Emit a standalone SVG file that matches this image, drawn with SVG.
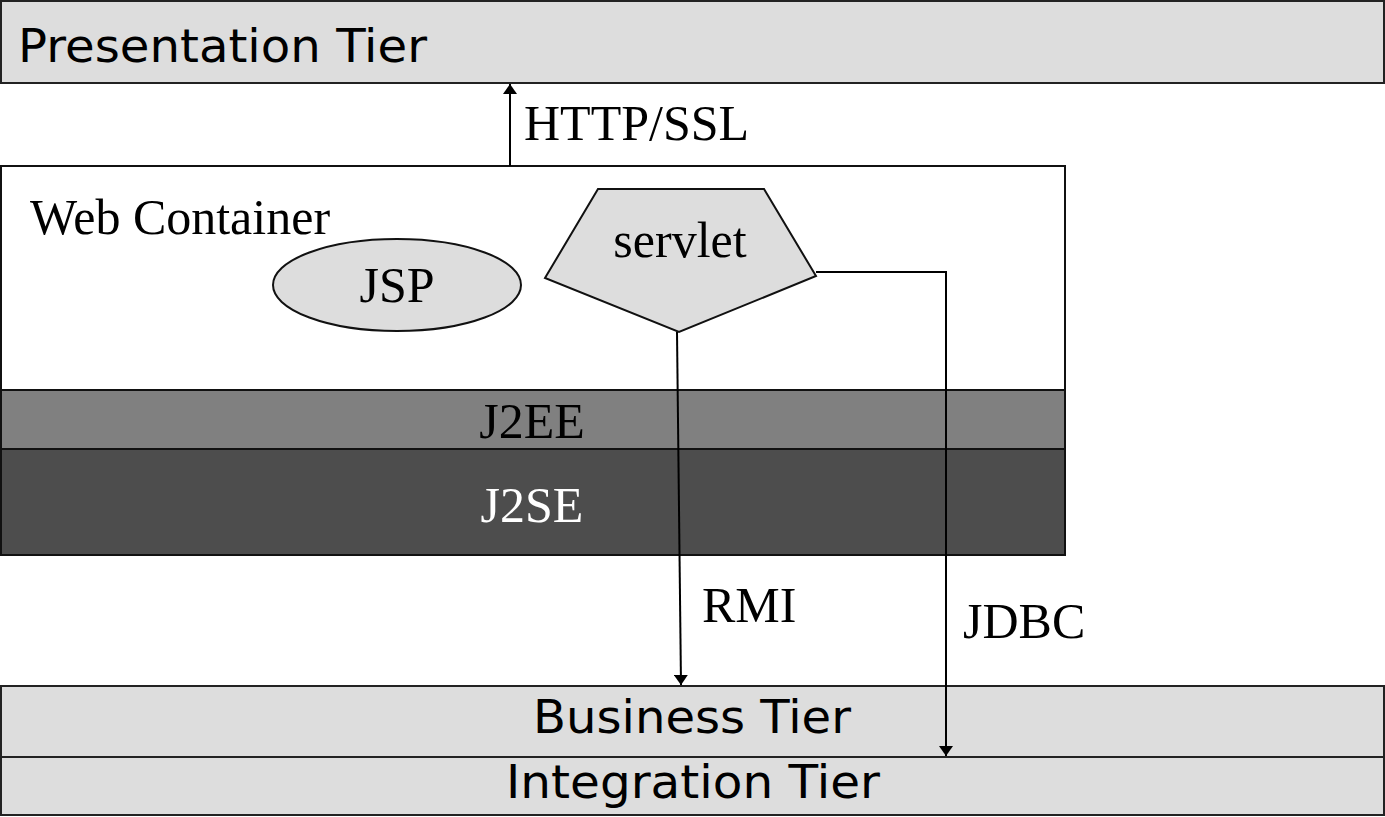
<svg xmlns="http://www.w3.org/2000/svg" width="1385" height="817" viewBox="0 0 1385 817">
<style>
.tier{fill:#dddddd;stroke:#222;stroke-width:2}
.sans{font-family:"DejaVu Sans",sans-serif;font-size:46px;fill:#000}
.serif{font-family:"Liberation Serif","Times New Roman",serif;font-size:50px;fill:#000}
.box{stroke:#111;stroke-width:2}
.conn{fill:none;stroke:#000;stroke-width:2}
</style>
<defs>
<marker id="ah" markerWidth="10" markerHeight="14" refX="10" refY="7" orient="auto" markerUnits="userSpaceOnUse" viewBox="0 0 10 14">
<path d="M0,0 L10,7 L0,14 z" fill="#000"/>
</marker>
</defs>
<g id="presentation-tier">
<rect class="tier" x="1" y="1" width="1383" height="82"/>
<text class="sans" x="18" y="62" textLength="409" lengthAdjust="spacingAndGlyphs">Presentation Tier</text>
</g>
<g id="web-container">
<rect class="box" x="1" y="166" width="1064" height="224" fill="#ffffff"/>
<text class="serif" x="30" y="234">Web Container</text>
</g>
<g id="j2ee">
<rect class="box" x="1" y="390" width="1064" height="59" fill="#808080"/>
<text class="serif" x="532" y="438" text-anchor="middle">J2EE</text>
</g>
<g id="j2se">
<rect class="box" x="1" y="449" width="1064" height="106" fill="#4d4d4d"/>
<text class="serif" x="532" y="522" text-anchor="middle" style="fill:#fff">J2SE</text>
</g>
<g id="jsp">
<ellipse cx="397" cy="285" rx="124" ry="46" fill="#dddddd" stroke="#111" stroke-width="2"/>
<text class="serif" x="397" y="302" text-anchor="middle">JSP</text>
</g>
<g id="servlet">
<polygon points="598,189 764,189 816,276 679,332 545,278" fill="#dddddd" stroke="#111" stroke-width="2"/>
<text class="serif" x="680" y="257" text-anchor="middle">servlet</text>
</g>
<g id="business-tier">
<rect class="tier" x="1" y="686" width="1383" height="71"/>
<text class="sans" x="533" y="733" textLength="318" lengthAdjust="spacingAndGlyphs">Business Tier</text>
</g>
<g id="integration-tier">
<rect class="tier" x="1" y="757" width="1383" height="58"/>
<text class="sans" x="506" y="798" textLength="374" lengthAdjust="spacingAndGlyphs">Integration Tier</text>
</g>
<g id="connectors">
<line class="conn" x1="510" y1="166" x2="510" y2="84" marker-end="url(#ah)"/>
<text class="serif" x="524" y="140">HTTP/SSL</text>
<line class="conn" x1="677" y1="332" x2="681" y2="685" marker-end="url(#ah)"/>
<text class="serif" x="702" y="622">RMI</text>
<polyline class="conn" points="816,272 946,272 946,756" marker-end="url(#ah)"/>
<text class="serif" x="963" y="638">JDBC</text>
</g>
</svg>
